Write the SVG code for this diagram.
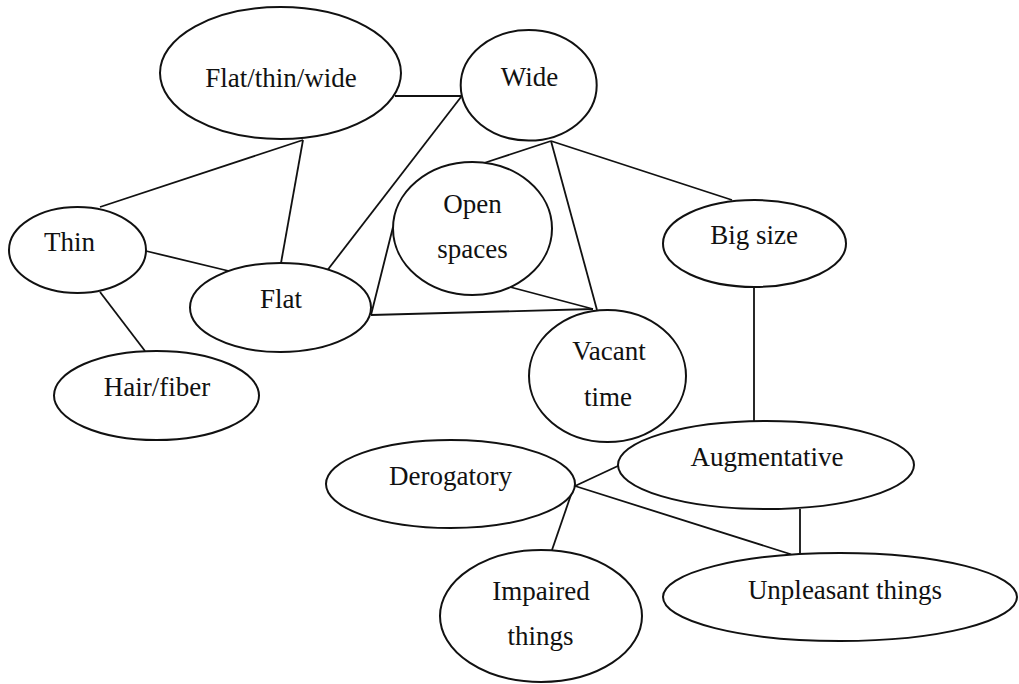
<svg xmlns="http://www.w3.org/2000/svg" width="1019" height="684" viewBox="0 0 1019 684">
  <style>
    .node ellipse { fill: #ffffff; stroke: #111111; stroke-width: 2; }
    .node text { font-family: "Liberation Serif", "Times New Roman", serif; font-size: 27px; fill: #111111; text-anchor: middle; }
    #connectors line, #connectors polyline { stroke: #111111; stroke-width: 1.8; fill: none; }
  </style>
  <rect width="1019" height="684" fill="#ffffff"/>

  <!-- connectors -->
  <g id="connectors">
    <line x1="395" y1="96" x2="461" y2="96"/>
    <line x1="303" y1="140" x2="100" y2="207"/>
    <line x1="303" y1="140" x2="281" y2="263"/>
    <line x1="146" y1="251" x2="233" y2="272"/>
    <line x1="100" y1="292" x2="145" y2="351"/>
    <line x1="461" y1="97" x2="326" y2="272"/>
    <line x1="551" y1="141" x2="484" y2="163"/>
    <line x1="551" y1="141" x2="597" y2="310"/>
    <line x1="551" y1="141" x2="732" y2="200"/>
    <line x1="371" y1="315" x2="593" y2="309"/>
    <line x1="371" y1="315" x2="393" y2="227"/>
    <line x1="510" y1="287" x2="593" y2="309"/>
    <line x1="754" y1="287" x2="754" y2="421"/>
    <line x1="620" y1="465" x2="575" y2="486"/>
    <polyline points="575,486 790,554 800,560"/>
    <line x1="800" y1="509" x2="800" y2="560"/>
    <line x1="573" y1="489" x2="552" y2="550"/>
  </g>

  <g id="node-flat-thin-wide" class="node">
    <ellipse cx="280.5" cy="73" rx="120.5" ry="66"/>
    <text x="281" y="87">Flat/thin/wide</text>
  </g>
  <g id="node-wide" class="node">
    <ellipse cx="528.7" cy="85.3" rx="68" ry="55.3"/>
    <text x="529.5" y="86">Wide</text>
  </g>
  <g id="node-thin" class="node">
    <ellipse cx="77.5" cy="250" rx="68.5" ry="43"/>
    <text x="69.5" y="251">Thin</text>
  </g>
  <g id="node-flat" class="node">
    <ellipse cx="280.5" cy="307.5" rx="90.5" ry="44.5"/>
    <text x="281" y="308">Flat</text>
  </g>
  <g id="node-open-spaces" class="node">
    <ellipse cx="472.5" cy="228.5" rx="79.5" ry="66.5"/>
    <text x="472.5" y="213">Open</text>
    <text x="472.5" y="258">spaces</text>
  </g>
  <g id="node-big-size" class="node">
    <ellipse cx="754.5" cy="243.5" rx="91.5" ry="43.5"/>
    <text x="754" y="244">Big size</text>
  </g>
  <g id="node-vacant-time" class="node">
    <ellipse cx="607.5" cy="376" rx="78.5" ry="66"/>
    <text x="609" y="360">Vacant</text>
    <text x="608" y="406">time</text>
  </g>
  <g id="node-hair-fiber" class="node">
    <ellipse cx="156.5" cy="395.5" rx="102.5" ry="44.5"/>
    <text x="157" y="396">Hair/fiber</text>
  </g>
  <g id="node-augmentative" class="node">
    <ellipse cx="766" cy="465" rx="148" ry="44"/>
    <text x="767" y="466">Augmentative</text>
  </g>
  <g id="node-derogatory" class="node">
    <ellipse cx="450.5" cy="484" rx="124.5" ry="44"/>
    <text x="450.5" y="485">Derogatory</text>
  </g>
  <g id="node-unpleasant-things" class="node">
    <ellipse cx="840" cy="597" rx="177" ry="44"/>
    <text x="845" y="599">Unpleasant things</text>
  </g>
  <g id="node-impaired-things" class="node">
    <ellipse cx="541" cy="616" rx="101" ry="66"/>
    <text x="541" y="600">Impaired</text>
    <text x="540.5" y="645">things</text>
  </g>
</svg>
